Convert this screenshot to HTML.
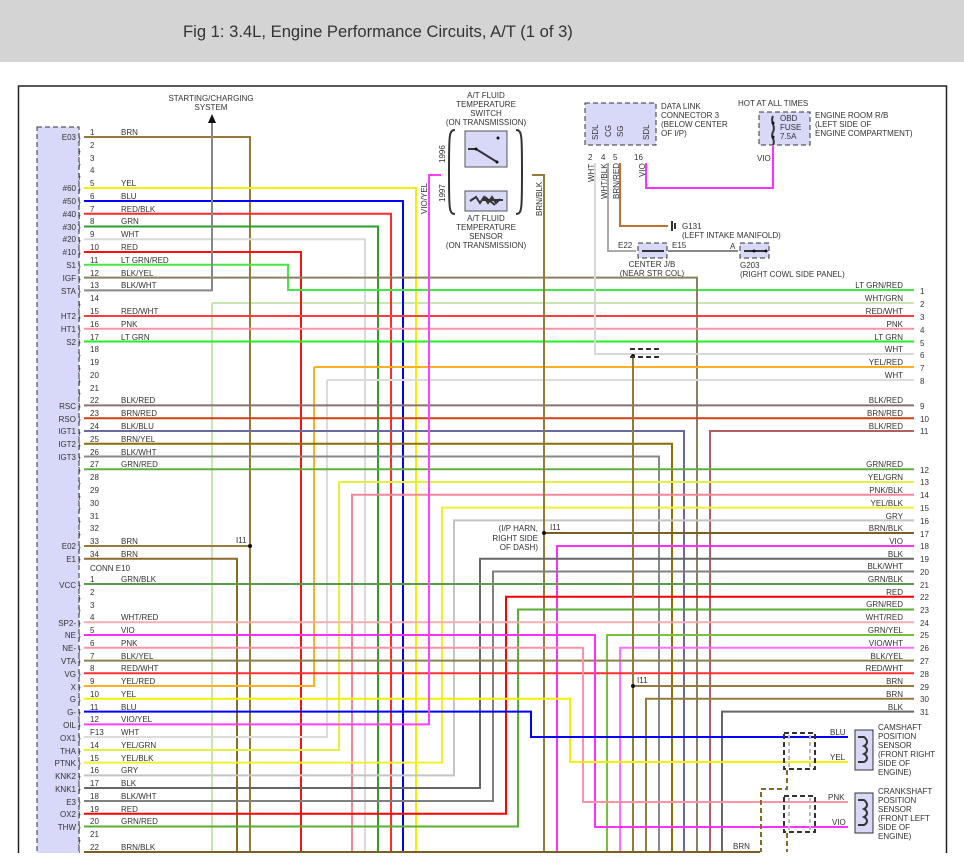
<!DOCTYPE html>
<html><head><meta charset="utf-8"><style>
html,body{margin:0;padding:0;background:#fff;width:964px;height:866px;overflow:hidden}
.bar{position:absolute;left:0;top:0;width:964px;height:62px;background:#d4d4d4}
.bar span{position:absolute;left:183px;top:22px;font:16.6px "Liberation Sans",sans-serif;color:#333}
svg{position:absolute;left:0;top:0}
text{font-family:"Liberation Sans",sans-serif;font-size:8px;fill:#333}
.r{text-anchor:end}.c{text-anchor:middle}
path{fill:none;stroke-width:2}
</style></head><body>
<div class="bar"><span>Fig 1: 3.4L, Engine Performance Circuits, A/T (1 of 3)</span></div>
<svg width="964" height="866" viewBox="0 0 964 866">
<defs><clipPath id="cp"><rect x="0" y="62" width="964" height="791"/></clipPath></defs>
<g clip-path="url(#cp)">
<rect x="18.5" y="86" width="928" height="800" fill="none" stroke="#222" stroke-width="1.5"/>
<rect x="37" y="127" width="42" height="740" fill="#d8d8f8" stroke="#333" stroke-dasharray="5,3"/>
<path stroke="#c8e6b0" d="M212 303H914M212 303V860"/>
<path stroke="#957b3a" d="M84 137H250V860M84 546H250"/>
<path stroke="#8a6a2a" d="M84 558.7H237V860"/>
<path stroke="#f2f000" d="M84 188H416V860"/>
<path stroke="#0000ff" d="M84 201H403V860"/>
<path stroke="#ff2a2a" d="M84 213.7H391V860"/>
<path stroke="#2e9e2e" d="M84 226.5H378V860"/>
<path stroke="#dadada" d="M84 239.2H365V860"/>
<path stroke="#ff1010" d="M84 252H301V860"/>
<path stroke="#44e844" d="M84 264.8H288V290H914"/>
<path stroke="#8a8060" d="M84 277.6H697V860"/>
<path stroke="#888" d="M84 290.4H212V122"/>
<polygon points="212,114 208,123 216,123" fill="#111"/>
<path stroke="#ff3b3b" d="M84 316H914"/>
<path stroke="#ff92a6" d="M84 328.7H914"/>
<path stroke="#22ee22" d="M84 341.5H914"/>
<path stroke="#d8d8d8" d="M595 163V354H914"/>
<path stroke="#ffb020" d="M314 367H914M314 367V686H84"/>
<path stroke="#dcdcdc" d="M327 380H914M327 380V737H84"/>
<path stroke="#8a7070" d="M84 405.4H914"/>
<path stroke="#d04010" d="M84 418.2H914"/>
<path stroke="#6a6aa0" d="M84 431H684V860"/>
<path stroke="#b06060" d="M914 431H710V860"/>
<path stroke="#8a7000" d="M84 443.7H672V860"/>
<path stroke="#888" d="M84 456.5H659V860"/>
<path stroke="#60b040" d="M84 469.3H914"/>
<path stroke="#e4f040" d="M914 482H339V750H84"/>
<path stroke="#f08898" d="M914 494.8H352V860"/>
<path stroke="#f0f030" d="M914 507.6H442V762.6H84"/>
<path stroke="#c4c4c4" d="M914 520.4H454V775.4H84"/>
<path stroke="#957b3a" d="M532 175H544V860"/>
<path stroke="#7a6020" d="M914 533H544"/>
<path stroke="#ff30ff" d="M914 546H557V860"/>
<path stroke="#666" d="M914 558.7H480V788H84"/>
<path stroke="#808080" d="M914 571.5H493V801H84"/>
<path stroke="#5a9a4a" d="M84 584H914"/>
<path stroke="#ff0000" d="M914 596.8H506V813.7H84"/>
<path stroke="#5aae30" d="M914 609.5H518V826.5H84"/>
<path stroke="#f0b0b0" d="M84 622.3H914"/>
<path stroke="#7ac040" d="M914 635H607V860"/>
<path stroke="#ff70ff" d="M914 647.8H620V860"/>
<path stroke="#8a8050" d="M84 660.6H914"/>
<path stroke="#ff3030" d="M84 673.3H914"/>
<path stroke="#957b3a" d="M633 357V860M914 686H633"/>
<path stroke="#957b3a" d="M914 698.8H646V860"/>
<path stroke="#666" d="M914 711.6H722V860"/>
<path stroke="#ff30ff" d="M84 635H595V827H848"/>
<path stroke="#ff92a6" d="M84 647.8H583V802H848"/>
<path stroke="#f5f000" d="M84 698.8H570V762H848"/>
<path stroke="#0000ff" d="M84 711.6H531V737H848"/>
<path stroke="#ff40ff" d="M84 724.4H429V175H441"/>
<path stroke="#7a6020" d="M84 852H760"/>
<path stroke="#aaa" stroke-width="1.5" d="M608 163V251H636"/>
<path stroke="#c07030" stroke-width="1.5" d="M620 163V226H668"/>
<path stroke="#ff30ff" d="M646 163V188H773V146"/>
<path stroke="#888" stroke-width="1" d="M668 251H738"/>
<rect x="585" y="103" width="71" height="42" fill="#d8d8f8" stroke="#333" stroke-dasharray="5,3"/>
<rect x="759" y="112" width="51" height="33" fill="#d8d8f8" stroke="#333" stroke-dasharray="5,3"/>
<rect x="638" y="243" width="29" height="15" fill="#d8d8f8" stroke="#333" stroke-dasharray="5,3"/>
<rect x="740" y="243" width="29" height="15" fill="#d8d8f8" stroke="#333" stroke-dasharray="5,3"/>
<path stroke="#333" stroke-width="1" d="M672 221V231M675 223V229M773 116C770 122 776 126 773 132C770 137 776 140 773 145M642 251H664M744 251H767"/>
<circle cx="773" cy="123" r="1.5" fill="#111"/><circle cx="773" cy="137" r="1.5" fill="#111"/>
<circle cx="754" cy="251" r="1.5" fill="#111"/><circle cx="766" cy="251" r="1.5" fill="#111"/>
<rect x="465" y="131" width="42" height="36" fill="#d8d8f8" stroke="#555"/>
<rect x="465" y="191" width="42" height="20" fill="#d8d8f8" stroke="#555"/>
<path stroke="#333" stroke-width="1" d="M468 149H476L497 162M483 200H503M470 201l6-4 4 6 4-6 4 6 4-6 4 6 4-4M485 197L495 205M455 130C449 130 449 135 449 172C449 209 449 214 455 214M516 130C522 130 522 135 522 172C522 209 522 214 516 214"/>
<circle cx="476" cy="149" r="1.5" fill="#111"/><circle cx="497" cy="162" r="1.5" fill="#111"/><circle cx="498" cy="138" r="1.5" fill="#111"/>
<rect x="855" y="730" width="18" height="40" fill="#d8d8f8" stroke="#333"/>
<rect x="855" y="793" width="18" height="40" fill="#d8d8f8" stroke="#333"/>
<path stroke="#333" stroke-width="1" d="M858 737H864C868 740 868 744 864 746C868 748 868 752 864 754C868 756 868 760 864 762H858M858 800H864C868 803 868 807 864 809C868 811 868 815 864 817C868 819 868 823 864 825H858"/>
<path stroke="#333" stroke-width="1" stroke-dasharray="5,3" d="M784 733H815V769H784ZM784 796H815V832H784Z"/>
<path stroke="#bbb" stroke-width="1" stroke-dasharray="4,3" d="M789 735V767M810 735V767M789 798V830M810 798V830"/>
<path stroke="#8a6a2a" stroke-width="1.5" stroke-dasharray="5,3" d="M787 770V789H761V852M787 833V852"/>
<circle cx="250" cy="546" r="2" fill="#111"/><circle cx="544" cy="533" r="2" fill="#111"/><circle cx="633" cy="686" r="2" fill="#111"/><circle cx="633" cy="356" r="2" fill="#111"/>
<path stroke="#333" stroke-width="1" stroke-dasharray="5,3" d="M630 349H662M630 357H662"/>
<g font-size="11">
<text x="78" y="141">}</text><text x="78" y="154">}</text><text x="78" y="167">}</text><text x="78" y="179">}</text><text x="78" y="192">}</text><text x="78" y="205">}</text><text x="78" y="218">}</text><text x="78" y="230">}</text><text x="78" y="243">}</text><text x="78" y="256">}</text><text x="78" y="269">}</text><text x="78" y="282">}</text><text x="78" y="294">}</text><text x="78" y="307">}</text><text x="78" y="320">}</text><text x="78" y="333">}</text><text x="78" y="345">}</text><text x="78" y="358">}</text><text x="78" y="371">}</text><text x="78" y="384">}</text><text x="78" y="396">}</text><text x="78" y="409">}</text><text x="78" y="422">}</text><text x="78" y="435">}</text><text x="78" y="448">}</text><text x="78" y="460">}</text><text x="78" y="473">}</text><text x="78" y="486">}</text><text x="78" y="499">}</text><text x="78" y="511">}</text><text x="78" y="524">}</text><text x="78" y="537">}</text><text x="78" y="550">}</text><text x="78" y="562">}</text>
<text x="78" y="588">}</text><text x="78" y="601">}</text><text x="78" y="613">}</text><text x="78" y="626">}</text><text x="78" y="639">}</text><text x="78" y="652">}</text><text x="78" y="664">}</text><text x="78" y="677">}</text><text x="78" y="690">}</text><text x="78" y="703">}</text><text x="78" y="715">}</text><text x="78" y="728">}</text><text x="78" y="741">}</text><text x="78" y="754">}</text><text x="78" y="766">}</text><text x="78" y="779">}</text><text x="78" y="792">}</text><text x="78" y="805">}</text><text x="78" y="817">}</text><text x="78" y="830">}</text><text x="78" y="843">}</text><text x="78" y="856">}</text>
</g>
</g>
<g>
<text class="r" x="76" y="140">E03</text><text class="r" x="76" y="191">#60</text><text class="r" x="76" y="204">#50</text><text class="r" x="76" y="217">#40</text><text class="r" x="76" y="230">#30</text><text class="r" x="76" y="242">#20</text><text class="r" x="76" y="255">#10</text><text class="r" x="76" y="268">S1</text><text class="r" x="76" y="281">IGF</text><text class="r" x="76" y="294">STA</text><text class="r" x="76" y="319">HT2</text><text class="r" x="76" y="332">HT1</text><text class="r" x="76" y="345">S2</text><text class="r" x="76" y="409">RSC</text><text class="r" x="76" y="422">RSO</text><text class="r" x="76" y="434">IGT1</text><text class="r" x="76" y="447">IGT2</text><text class="r" x="76" y="460">IGT3</text><text class="r" x="76" y="549">E02</text><text class="r" x="76" y="562">E1</text>
<text class="r" x="76" y="588">VCC</text><text class="r" x="76" y="626">SP2-</text><text class="r" x="76" y="638">NE</text><text class="r" x="76" y="651">NE-</text><text class="r" x="76" y="664">VTA</text><text class="r" x="76" y="677">VG</text><text class="r" x="76" y="690">X</text><text class="r" x="76" y="702">G</text><text class="r" x="76" y="715">G-</text><text class="r" x="76" y="728">OIL</text><text class="r" x="76" y="741">OX1</text><text class="r" x="76" y="754">THA</text><text class="r" x="76" y="766">PTNK</text><text class="r" x="76" y="779">KNK2</text><text class="r" x="76" y="792">KNK1</text><text class="r" x="76" y="805">E3</text><text class="r" x="76" y="817">OX2</text><text class="r" x="76" y="830">THW</text>
</g>
<g>
<text x="90" y="135">1</text><text x="121" y="135">BRN</text><text x="90" y="148">2</text><text x="90" y="161">3</text><text x="90" y="173">4</text>
<text x="90" y="186">5</text><text x="121" y="186">YEL</text><text x="90" y="199">6</text><text x="121" y="199">BLU</text><text x="90" y="212">7</text><text x="121" y="212">RED/BLK</text><text x="90" y="224">8</text><text x="121" y="224">GRN</text><text x="90" y="237">9</text><text x="121" y="237">WHT</text><text x="90" y="250">10</text><text x="121" y="250">RED</text><text x="90" y="263">11</text><text x="121" y="263">LT GRN/RED</text><text x="90" y="276">12</text><text x="121" y="276">BLK/YEL</text><text x="90" y="288">13</text><text x="121" y="288">BLK/WHT</text><text x="90" y="301">14</text>
<text x="90" y="314">15</text><text x="121" y="314">RED/WHT</text><text x="90" y="327">16</text><text x="121" y="327">PNK</text><text x="90" y="340">17</text><text x="121" y="340">LT GRN</text><text x="90" y="352">18</text><text x="90" y="365">19</text><text x="90" y="378">20</text><text x="90" y="391">21</text>
<text x="90" y="403">22</text><text x="121" y="403">BLK/RED</text><text x="90" y="416">23</text><text x="121" y="416">BRN/RED</text><text x="90" y="429">24</text><text x="121" y="429">BLK/BLU</text><text x="90" y="442">25</text><text x="121" y="442">BRN/YEL</text><text x="90" y="455">26</text><text x="121" y="455">BLK/WHT</text><text x="90" y="467">27</text><text x="121" y="467">GRN/RED</text>
<text x="90" y="480">28</text><text x="90" y="493">29</text><text x="90" y="506">30</text><text x="90" y="519">31</text><text x="90" y="531">32</text><text x="90" y="544">33</text><text x="121" y="544">BRN</text><text x="90" y="557">34</text><text x="121" y="557">BRN</text>
<text x="90" y="571">CONN E10</text>
<text x="90" y="582">1</text><text x="121" y="582">GRN/BLK</text><text x="90" y="595">2</text><text x="90" y="608">3</text><text x="90" y="620">4</text><text x="121" y="620">WHT/RED</text><text x="90" y="633">5</text><text x="121" y="633">VIO</text><text x="90" y="646">6</text><text x="121" y="646">PNK</text><text x="90" y="659">7</text><text x="121" y="659">BLK/YEL</text><text x="90" y="671">8</text><text x="121" y="671">RED/WHT</text><text x="90" y="684">9</text><text x="121" y="684">YEL/RED</text><text x="90" y="697">10</text><text x="121" y="697">YEL</text><text x="90" y="710">11</text><text x="121" y="710">BLU</text><text x="90" y="722">12</text><text x="121" y="722">VIO/YEL</text><text x="90" y="735">F13</text><text x="121" y="735">WHT</text><text x="90" y="748">14</text><text x="121" y="748">YEL/GRN</text><text x="90" y="761">15</text><text x="121" y="761">YEL/BLK</text><text x="90" y="773">16</text><text x="121" y="773">GRY</text><text x="90" y="786">17</text><text x="121" y="786">BLK</text><text x="90" y="799">18</text><text x="121" y="799">BLK/WHT</text><text x="90" y="812">19</text><text x="121" y="812">RED</text><text x="90" y="824">20</text><text x="121" y="824">GRN/RED</text><text x="90" y="837">21</text><text x="90" y="850">22</text><text x="121" y="850">BRN/BLK</text>
</g>
<g>
<text class="r" x="903" y="288">LT GRN/RED</text><text x="920" y="294">1</text>
<text class="r" x="903" y="301">WHT/GRN</text><text x="920" y="307">2</text>
<text class="r" x="903" y="314">RED/WHT</text><text x="920" y="320">3</text>
<text class="r" x="903" y="327">PNK</text><text x="920" y="333">4</text>
<text class="r" x="903" y="340">LT GRN</text><text x="920" y="346">5</text>
<text class="r" x="903" y="352">WHT</text><text x="920" y="358">6</text>
<text class="r" x="903" y="365">YEL/RED</text><text x="920" y="371">7</text>
<text class="r" x="903" y="378">WHT</text><text x="920" y="384">8</text>
<text class="r" x="903" y="403">BLK/RED</text><text x="920" y="409">9</text>
<text class="r" x="903" y="416">BRN/RED</text><text x="920" y="422">10</text>
<text class="r" x="903" y="429">BLK/RED</text><text x="920" y="434">11</text>
<text class="r" x="903" y="467">GRN/RED</text><text x="920" y="473">12</text>
<text class="r" x="903" y="480">YEL/GRN</text><text x="920" y="485">13</text>
<text class="r" x="903" y="493">PNK/BLK</text><text x="920" y="498">14</text>
<text class="r" x="903" y="506">YEL/BLK</text><text x="920" y="511">15</text>
<text class="r" x="903" y="519">GRY</text><text x="920" y="524">16</text>
<text class="r" x="903" y="531">BRN/BLK</text><text x="920" y="537">17</text>
<text class="r" x="903" y="544">VIO</text><text x="920" y="549">18</text>
<text class="r" x="903" y="557">BLK</text><text x="920" y="562">19</text>
<text class="r" x="903" y="569">BLK/WHT</text><text x="920" y="575">20</text>
<text class="r" x="903" y="582">GRN/BLK</text><text x="920" y="588">21</text>
<text class="r" x="903" y="595">RED</text><text x="920" y="600">22</text>
<text class="r" x="903" y="607">GRN/RED</text><text x="920" y="613">23</text>
<text class="r" x="903" y="620">WHT/RED</text><text x="920" y="626">24</text>
<text class="r" x="903" y="633">GRN/YEL</text><text x="920" y="638">25</text>
<text class="r" x="903" y="646">VIO/WHT</text><text x="920" y="651">26</text>
<text class="r" x="903" y="659">BLK/YEL</text><text x="920" y="664">27</text>
<text class="r" x="903" y="671">RED/WHT</text><text x="920" y="677">28</text>
<text class="r" x="903" y="684">BRN</text><text x="920" y="690">29</text>
<text class="r" x="903" y="697">BRN</text><text x="920" y="702">30</text>
<text class="r" x="903" y="710">BLK</text><text x="920" y="715">31</text>
</g>
<text class="c" x="211" y="101">STARTING/CHARGING</text><text class="c" x="211" y="110">SYSTEM</text>
<text class="c" x="486" y="98">A/T FLUID</text><text class="c" x="486" y="107">TEMPERATURE</text><text class="c" x="486" y="116">SWITCH</text><text class="c" x="486" y="125">(ON TRANSMISSION)</text>
<text class="c" x="486" y="221">A/T FLUID</text><text class="c" x="486" y="230">TEMPERATURE</text><text class="c" x="486" y="239">SENSOR</text><text class="c" x="486" y="248">(ON TRANSMISSION)</text>
<text transform="translate(445,163) rotate(-90)">1996</text><text transform="translate(445,202) rotate(-90)">1997</text>
<text transform="translate(427,214) rotate(-90)">VIO/YEL</text><text transform="translate(542,216) rotate(-90)">BRN/BLK</text>
<text x="661" y="109">DATA LINK</text><text x="661" y="118">CONNECTOR 3</text><text x="661" y="127">(BELOW CENTER</text><text x="661" y="136">OF I/P)</text>
<text transform="translate(598,140) rotate(-90)">SDL</text><text transform="translate(611,137) rotate(-90)">CG</text><text transform="translate(623,137) rotate(-90)">SG</text><text transform="translate(649,140) rotate(-90)">SDL</text>
<text x="588" y="160">2</text><text x="601" y="160">4</text><text x="613" y="160">5</text><text x="634" y="160">16</text>
<text transform="translate(594,182) rotate(-90)">WHT</text><text transform="translate(607,199) rotate(-90)">WHT/BLK</text><text transform="translate(619,199) rotate(-90)">BRN/RED</text><text transform="translate(645,177) rotate(-90)">VIO</text>
<text x="682" y="229">G131</text><text x="682" y="238">(LEFT INTAKE MANIFOLD)</text>
<text x="618" y="248">E22</text><text x="672" y="248">E15</text><text class="c" x="652" y="267">CENTER J/B</text><text class="c" x="652" y="276">(NEAR STR COL)</text>
<text x="730" y="249">A</text><text x="740" y="268">G203</text><text x="740" y="277">(RIGHT COWL SIDE PANEL)</text>
<text x="738" y="106">HOT AT ALL TIMES</text><text x="780" y="121">OBD</text><text x="780" y="130">FUSE</text><text x="780" y="139">7.5A</text>
<text x="815" y="118">ENGINE ROOM R/B</text><text x="815" y="127">(LEFT SIDE OF</text><text x="815" y="136">ENGINE COMPARTMENT)</text>
<text x="757" y="161">VIO</text>
<text x="236" y="543" fill="#804060">I11</text><text x="550" y="530">I11</text><text x="637" y="683">I11</text>
<text class="r" x="538" y="531">(I/P HARN,</text><text class="r" x="538" y="541">RIGHT SIDE</text><text class="r" x="538" y="550">OF DASH)</text>
<text x="830" y="735">BLU</text><text x="830" y="760">YEL</text><text x="828" y="800">PNK</text><text x="832" y="825">VIO</text>
<text x="878" y="730">CAMSHAFT</text><text x="878" y="739">POSITION</text><text x="878" y="748">SENSOR</text><text x="878" y="757">(FRONT RIGHT</text><text x="878" y="766">SIDE OF</text><text x="878" y="775">ENGINE)</text>
<text x="878" y="794">CRANKSHAFT</text><text x="878" y="803">POSITION</text><text x="878" y="812">SENSOR</text><text x="878" y="821">(FRONT LEFT</text><text x="878" y="830">SIDE OF</text><text x="878" y="839">ENGINE)</text>
<text x="733" y="849">BRN</text>
</svg>
</body></html>
